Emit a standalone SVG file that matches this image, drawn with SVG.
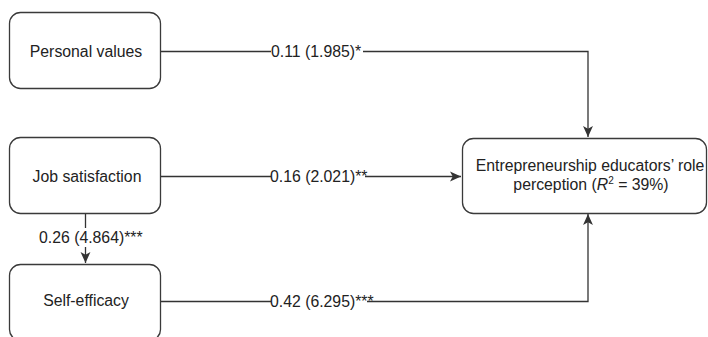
<svg xmlns="http://www.w3.org/2000/svg" width="708" height="337" viewBox="0 0 708 337">
<style>
.box{fill:#fff;stroke:#3a3a3a;stroke-width:1.3}
.t{font-family:"Liberation Sans",Arial,sans-serif;font-size:15.8px;fill:#222}
.c{text-anchor:middle}
.ln{fill:none;stroke:#333;stroke-width:1.3}
.bg{fill:#fff}
</style>
<defs>
<marker id="ah" viewBox="0 0 10 10" refX="10" refY="5" markerWidth="11" markerHeight="11" markerUnits="userSpaceOnUse" orient="auto">
<path d="M0,0.5 L10,5 L0,9.5 L2.5,5 Z" fill="#333"/>
</marker>
</defs>
<rect width="708" height="337" fill="#fff"/>
<g id="connectors">
<path class="ln" d="M161,51.5 H588 V137" marker-end="url(#ah)"/>
<path class="ln" d="M161,176.5 H461" marker-end="url(#ah)"/>
<path class="ln" d="M85.5,213 V263" marker-end="url(#ah)"/>
<path class="ln" d="M161,301.5 H588 V214" marker-end="url(#ah)"/>
<rect class="bg" x="271" y="42" width="92" height="19"/>
<text class="t" x="271" y="57.3">0.11 (1.985)*</text>
<rect class="bg" x="271" y="167" width="94" height="19"/>
<text class="t" x="270" y="182.3">0.16 (2.021)**</text>
<rect class="bg" x="38" y="228" width="107" height="19"/>
<text class="t" x="39" y="243.3">0.26 (4.864)***</text>
<rect class="bg" x="271" y="292" width="96" height="19"/>
<text class="t" x="270" y="306.5">0.42 (6.295)***</text>
</g>
<g id="personal-values">
<rect class="box" x="9.5" y="12.5" width="151" height="76" rx="11"/>
<text class="t c" x="86" y="57.3">Personal values</text>
</g>
<g id="job-satisfaction">
<rect class="box" x="9.5" y="137.5" width="151" height="76" rx="11"/>
<text class="t c" x="87" y="182.3">Job satisfaction</text>
</g>
<g id="self-efficacy">
<rect class="box" x="9.5" y="264.5" width="151" height="76" rx="11"/>
<text class="t c" x="86" y="306.2">Self-efficacy</text>
</g>
<g id="role-perception">
<rect class="box" x="462.5" y="138.5" width="244" height="75" rx="11"/>
<text class="t c" x="590" y="171.3">Entrepreneurship educators’ role</text>
<text class="t c" x="591" y="190.3">perception (<tspan font-style="italic">R</tspan><tspan dy="-6" font-size="10px">2</tspan><tspan dy="6"> = 39%)</tspan></text>
</g>
</svg>
